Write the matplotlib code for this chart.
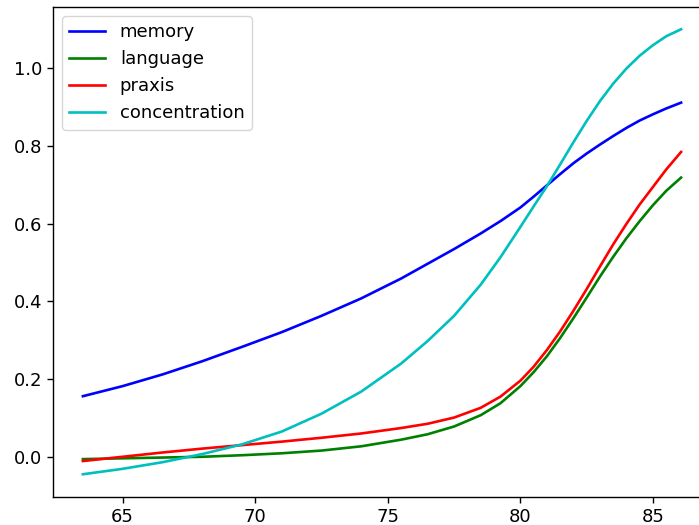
import matplotlib
matplotlib.use("Agg")
import matplotlib.pyplot as plt

age = [63.5, 65, 66.5, 68, 69.5, 71, 72.5, 74, 75.5, 76.5, 77.5, 78.5, 79.25, 80,
       80.5, 81, 81.5, 82, 82.5, 83, 83.5, 84, 84.5, 85, 85.5, 86.06]

memory = [0.156, 0.182, 0.212, 0.246, 0.283, 0.321, 0.363, 0.408, 0.459, 0.497,
          0.535, 0.575, 0.607, 0.642, 0.670, 0.699, 0.728, 0.756, 0.781, 0.804,
          0.826, 0.847, 0.866, 0.882, 0.897, 0.912]

language = [-0.006, -0.004, -0.002, 0.000, 0.004, 0.009, 0.016, 0.027, 0.044, 0.058,
            0.078, 0.107, 0.138, 0.182, 0.218, 0.259, 0.306, 0.357, 0.410, 0.464,
            0.515, 0.563, 0.607, 0.648, 0.685, 0.719]

praxis = [-0.011, 0.000, 0.011, 0.021, 0.030, 0.039, 0.049, 0.060, 0.074, 0.085,
          0.101, 0.126, 0.155, 0.196, 0.232, 0.275, 0.323, 0.376, 0.432, 0.490,
          0.547, 0.600, 0.650, 0.695, 0.740, 0.785]

concentration = [-0.045, -0.031, -0.014, 0.007, 0.032, 0.065, 0.111, 0.168, 0.240, 0.298,
                 0.363, 0.443, 0.514, 0.592, 0.645, 0.697, 0.753, 0.810, 0.865, 0.916,
                 0.961, 1.000, 1.033, 1.060, 1.083, 1.101]

plt.rcParams['font.size'] = 13
plt.rcParams['xtick.major.size'] = 4.5
plt.rcParams['ytick.major.size'] = 4.5
plt.rcParams['xtick.major.width'] = 1.0
plt.rcParams['ytick.major.width'] = 1.0
plt.rcParams['axes.linewidth'] = 1.0

fig = plt.figure(figsize=(6.99, 5.25), dpi=100)
ax = fig.add_axes([53/699, 28.5/525, 658/699, 489.5/525])

ax.plot(age, memory, color='b', lw=1.9, label='memory')
ax.plot(age, language, color='g', lw=1.9, label='language')
ax.plot(age, praxis, color='r', lw=1.9, label='praxis')
ax.plot(age, concentration, color='c', lw=1.9, label='concentration')

ax.legend(loc='upper left')
fig.savefig('out.png', dpi=100)
